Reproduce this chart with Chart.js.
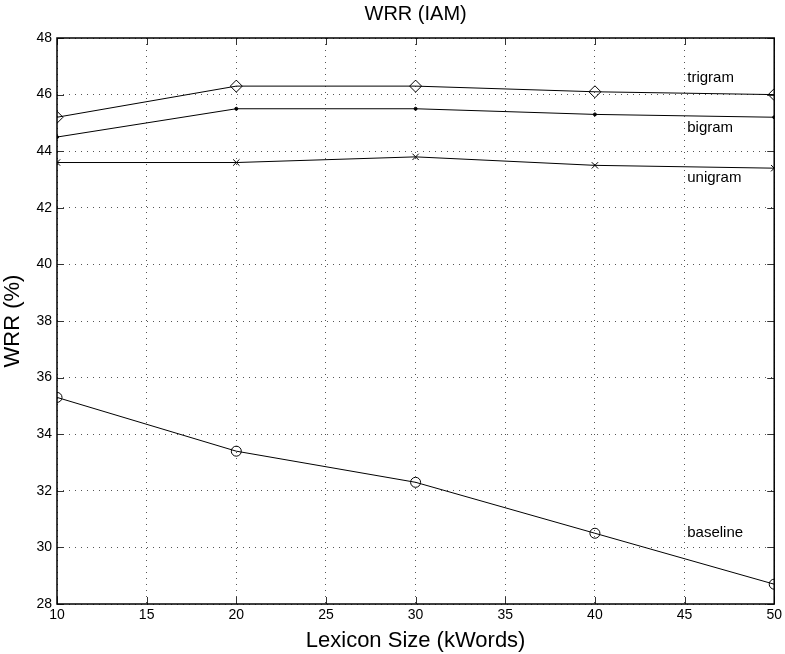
<!DOCTYPE html>
<html>
<head>
<meta charset="utf-8">
<script src="https://cdn.jsdelivr.net/npm/chart.js@4.4.1/dist/chart.umd.min.js"></script>
<style>
html,body{margin:0;padding:0;background:#fff;}
#wrap{width:785px;height:654px;}
</style>
</head>
<body>
<div id="wrap"><canvas id="c" width="785" height="654"></canvas></div>
<script>
const lexiconSizes = [10, 20, 30, 40, 50];
const trigram  = [45.2, 46.3, 46.3, 46.1, 46.0];
const bigram   = [44.5, 45.5, 45.5, 45.3, 45.2];
const unigram  = [43.6, 43.6, 43.8, 43.5, 43.4];
const baseline = [35.3, 33.4, 32.3, 30.5, 28.7];
const xTicks = [10, 15, 20, 25, 30, 35, 40, 45, 50];
const yTicks = [28, 30, 32, 34, 36, 38, 40, 42, 44, 46, 48];
const labelNames = ['trigram', 'bigram', 'unigram', 'baseline'];
const labelX = [45.15, 45.15, 45.15, 45.15];
const labelY = [46.6, 44.82, 43.05, 30.5];
const titleText = 'WRR (IAM)';

const FONT = "'Liberation Sans', Arial, Helvetica, sans-serif";

function pts(vals){ return lexiconSizes.map((x,i)=>({x:x,y:vals[i]})); }

const frame = {
  id: 'frame',
  afterDraw(chart){
    const {ctx, chartArea:a, scales:{x, y}} = chart;
    ctx.save();
    ctx.strokeStyle = '#333';
    ctx.lineWidth = 1;
    const tl = 7;
    ctx.beginPath();
    xTicks.forEach(v=>{
      const px = Math.round(x.getPixelForValue(v)) + 0.5;
      ctx.moveTo(px, a.bottom); ctx.lineTo(px, a.bottom - tl);
      ctx.moveTo(px, a.top); ctx.lineTo(px, a.top + tl);
    });
    yTicks.forEach(v=>{
      const py = Math.round(y.getPixelForValue(v)) + 0.5;
      ctx.moveTo(a.left, py); ctx.lineTo(a.left + tl, py);
      ctx.moveTo(a.right, py); ctx.lineTo(a.right - tl, py);
    });
    ctx.stroke();
    ctx.strokeStyle = '#000';
    ctx.lineWidth = 1.5;
    ctx.strokeRect(a.left, a.top, a.right - a.left, a.bottom - a.top);
    ctx.fillStyle = '#000';
    ctx.font = '15px ' + FONT;
    ctx.textAlign = 'left';
    ctx.textBaseline = 'middle';
    labelNames.forEach((t,i)=>{
      ctx.fillText(t, x.getPixelForValue(labelX[i]), y.getPixelForValue(labelY[i]));
    });
    ctx.font = '20px ' + FONT;
    ctx.textAlign = 'center';
    ctx.textBaseline = 'middle';
    ctx.fillText(titleText, (a.left + a.right)/2, 14);
    ctx.restore();
  }
};

const common = {borderColor:'#000', borderWidth:1, tension:0, fill:false};

new Chart(document.getElementById('c'), {
  type: 'line',
  data: {
    datasets: [
      Object.assign({label:'trigram', data: pts(trigram), pointStyle:'rectRot', pointRadius:6, pointBorderColor:'#000', pointBackgroundColor:'rgba(0,0,0,0)', pointBorderWidth:1}, common),
      Object.assign({label:'bigram', data: pts(bigram), pointStyle:'circle', pointRadius:1.5, pointBorderColor:'#000', pointBackgroundColor:'#000', pointBorderWidth:1}, common),
      Object.assign({label:'unigram', data: pts(unigram), pointStyle:'crossRot', pointRadius:4.5, pointBorderColor:'#000', pointBackgroundColor:'#000', pointBorderWidth:1}, common),
      Object.assign({label:'baseline', data: pts(baseline), pointStyle:'circle', pointRadius:5, pointBorderColor:'#000', pointBackgroundColor:'rgba(0,0,0,0)', pointBorderWidth:1}, common)
    ]
  },
  options: {
    responsive: false,
    animation: false,
    devicePixelRatio: 1,
    layout: {padding: {top: 38, right: 8, left: 0, bottom: 0}},
    plugins: {legend:{display:false}, title:{display:false}, tooltip:{enabled:false}},
    scales: {
      x: {
        type: 'linear', min: 10, max: 50,
        afterBuildTicks(s){ s.ticks = xTicks.map(v=>({value:v})); },
        afterFit(s){ s.height = 50; },
        ticks: {color:'#000', font:{family:FONT, size:14}, padding:3, maxRotation:0, autoSkip:false},
        grid: {color:'#555', lineWidth:1, drawTicks:false},
        border: {display:false, dash:[1,5]},
        title: {display:true, text:'Lexicon Size (kWords)', color:'#000', font:{family:FONT, size:22}, padding:{top:0, bottom:0}}
      },
      y: {
        type: 'linear', min: 28, max: 48,
        afterBuildTicks(s){ s.ticks = yTicks.map(v=>({value:v})); },
        afterFit(s){ s.width = 57; },
        ticks: {color:'#000', font:{family:FONT, size:14}, padding:5, autoSkip:false},
        grid: {color:'#555', lineWidth:1, drawTicks:false},
        border: {display:false, dash:[1,5]},
        title: {display:true, text:'WRR (%)', color:'#000', font:{family:FONT, size:22}, padding:{top:0, bottom:0}}
      }
    }
  },
  plugins: [frame]
});
</script>
</body>
</html>
